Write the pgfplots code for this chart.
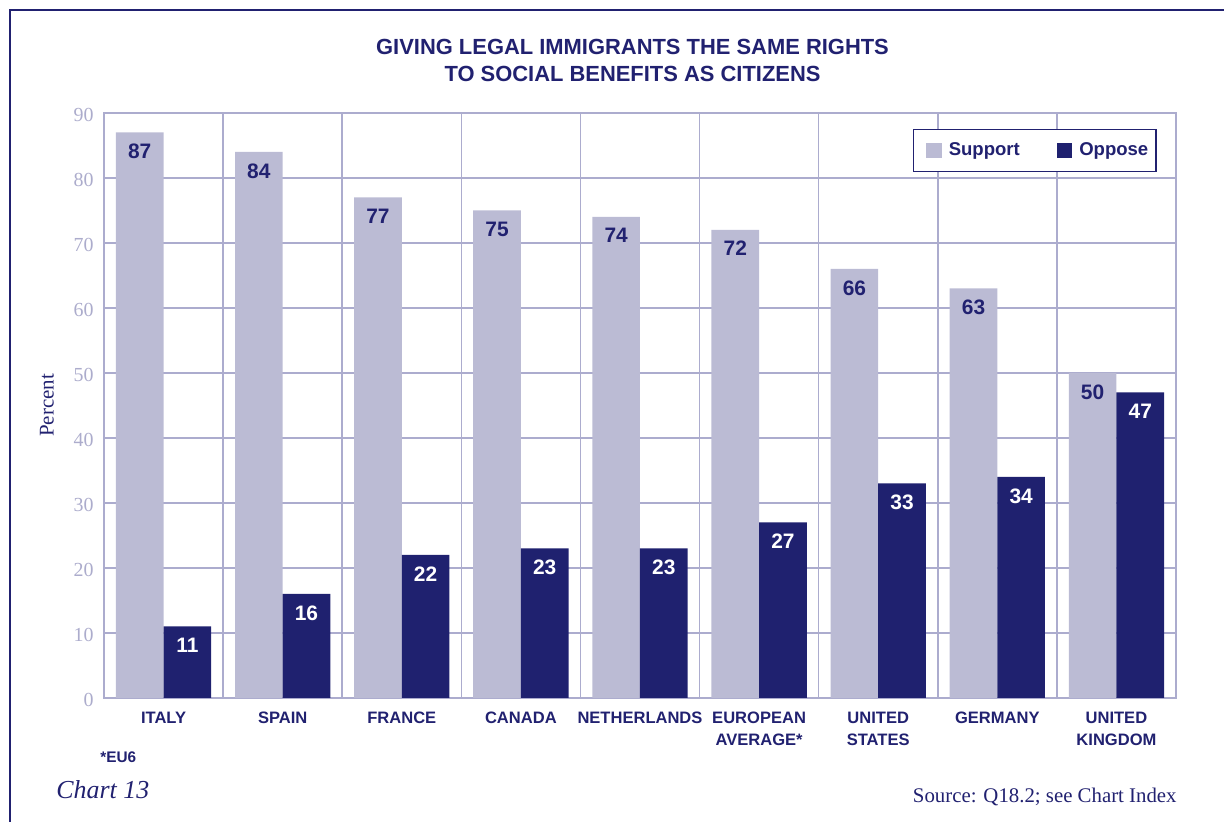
\documentclass[border=0pt]{standalone}
\usepackage{pgfplots}
\pgfplotsset{compat=1.18}
\usepackage{fontspec}
\setmainfont{Liberation Serif}
\newfontfamily\sans{Liberation Sans}
\definecolor{navy}{RGB}{33,33,112}
\definecolor{supp}{RGB}{187,187,212}
\definecolor{opp}{RGB}{31,33,111}
\definecolor{gridc}{RGB}{172,172,206}
\definecolor{tickc}{RGB}{172,172,204}
\begin{document}
\begin{tikzpicture}
\useasboundingbox (0,0) rectangle (612bp,411bp);
\draw[navy, line width=1bp] (4.8bp,-1bp) -- (4.8bp,406.2bp) -- (613bp,406.2bp);
\node[align=center, text=navy, font=\sans\bfseries\fontsize{11}{13.5}\selectfont] at (316.25bp,380.75bp)
  {GIVING LEGAL IMMIGRANTS THE SAME RIGHTS\\TO SOCIAL BENEFITS AS CITIZENS};
\begin{axis}[
  at={(52bp,62bp)}, anchor=south west,
  width=536bp, height=292.5bp, scale only axis,
  xmin=-0.5, xmax=8.5, ymin=0, ymax=90,
  xtick={0,...,8},
  xticklabels={ITALY, SPAIN, FRANCE, CANADA, NETHERLANDS, {EUROPEAN\\AVERAGE*}, {UNITED\\STATES}, GERMANY, {UNITED\\KINGDOM}},
  minor xtick={-0.5,0.5,...,8.5},
  ytick={0,10,...,90},
  xminorgrids, ymajorgrids,
  major tick length=0pt, minor tick length=0pt,
  axis line style={gridc, line width=0.75bp},
  grid style={gridc, line width=0.75bp},
  minor grid style={gridc, line width=0.75bp},
  /pgf/number format/assume math mode=true,
  xticklabel style={font=\sans\bfseries\fontsize{8.3}{11}\selectfont, text=navy, align=center, anchor=north, inner sep=0pt, yshift=-7bp},
  yticklabel style={font=\fontsize{10}{12}\selectfont, text=tickc, anchor=east, inner sep=0pt, xshift=-5bp, yshift=-0.8bp},
  ylabel={Percent},
  every axis y label/.style={at={(axis description cs:0,0.5)}, xshift=-28.5bp, rotate=90, anchor=center, font=\fontsize{10.5}{12}\selectfont, text=navy},
  legend columns=2,
  legend style={at={(1,1)}, anchor=north east, xshift=-9.5bp, yshift=-8bp, draw=navy, line width=0.75bp,
    font=\sans\bfseries\fontsize{9.3}{11}\selectfont, text=navy, inner xsep=2bp, inner ysep=4.5bp,
    /tikz/every even column/.append style={column sep=12bp}},
  legend cell align=left,
  nodes near coords,
  nodes near coords align=below,
  every node near coord/.append style={font=\sans\bfseries\fontsize{10.5}{12}\selectfont, inner sep=0pt, yshift=-5.5bp},
]
\addlegendimage{legend image code/.code={\path (0bp,0bp); \fill[supp] (4.5bp,-3.5bp) rectangle (11.5bp,3.5bp); \path (13bp,0bp);}}
\addlegendentry{Support}
\addlegendimage{legend image code/.code={\path (0bp,0bp); \fill[opp] (4.5bp,-3.5bp) rectangle (11.5bp,3.5bp); \path (13bp,0bp);}}
\addlegendentry{Oppose}
\addplot[ybar, bar width=0.4, bar shift=-0.2, fill=supp, draw=none, forget plot,
  every node near coord/.append style={text=navy, xshift=-11.91bp}]
  coordinates {(0,87) (1,84) (2,77) (3,75) (4,74) (5,72) (6,66) (7,63) (8,50)};
\addplot[ybar, bar width=0.4, bar shift=0.2, fill=opp, draw=none, forget plot,
  every node near coord/.append style={text=white, xshift=11.91bp}]
  coordinates {(0,11) (1,16) (2,22) (3,23) (4,23) (5,27) (6,33) (7,34) (8,47)};
\end{axis}
\node[anchor=base west, inner sep=0pt, text=navy, font=\sans\bfseries\fontsize{7.7}{9}\selectfont] at (50bp,30bp) {*EU6};
\node[anchor=base west, inner sep=0pt, text=navy, font=\itshape\fontsize{13}{15}\selectfont] at (28bp,12bp) {Chart 13};
\node[anchor=base east, inner sep=0pt, text=navy, font=\fontsize{10.45}{12}\selectfont] at (588.5bp,10bp) {Source: Q18.2; see Chart Index};
\end{tikzpicture}
\end{document}
